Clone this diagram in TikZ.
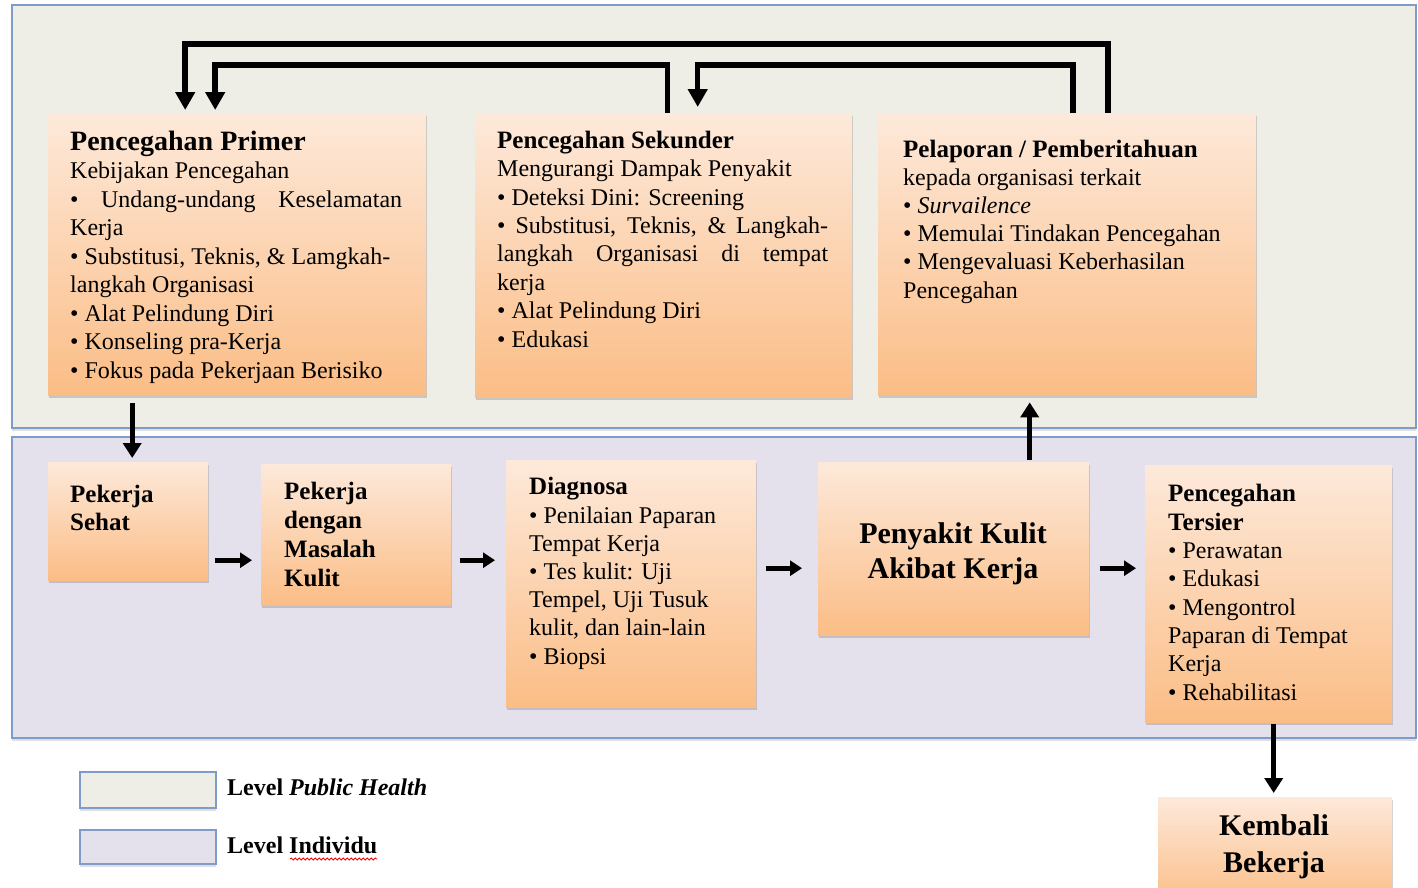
\documentclass[tikz,border=0pt]{standalone}
\usepackage{fontspec}
\setmainfont{Liberation Serif}
\usetikzlibrary{arrows.meta,shadows,decorations.pathmorphing}

\definecolor{phfill}{HTML}{EEEDE6}
\definecolor{indfill}{HTML}{E4E0EC}
\definecolor{panelline}{HTML}{7E9CC9}
\definecolor{boxtop}{HTML}{FDE9DA}
\definecolor{boxbot}{HTML}{FBBD86}

\tikzset{
  panel/.style={draw=panelline, line width=2pt, drop shadow={shadow xshift=0pt, shadow yshift=-3pt, opacity=.25}},
  obox/.style={rectangle, inner sep=0pt, anchor=north west, top color=boxtop, bottom color=boxbot,
    drop shadow={shadow xshift=1pt, shadow yshift=-3pt, opacity=.35}},
  btxt/.style={anchor=base west, align=left, inner sep=0pt, font=\fontsize{24}{28.5}\selectfont},
  ctxt/.style={anchor=base, align=center, inner sep=0pt, font=\fontsize{30}{35}\bfseries},
  bigarr/.style={line width=5.5pt, -{Triangle[width=19pt,length=18pt]}},
  midarr/.style={line width=5pt, -{Triangle[width=18pt,length=15pt]}},
  smallarr/.style={line width=5pt, -{Triangle[width=15pt,length=12pt]}},
}

\begin{document}
\begin{tikzpicture}[x=1pt, y=-1pt]

  \clip (0,0) rectangle (1418,887);
  \fill[white] (0,0) rectangle (1418,887);

  % levels
  \path[panel, fill=phfill] (12,5) rectangle (1416,428);
  \path[panel, fill=indfill] (12,437) rectangle (1416,738);

  % public health level
  \node[obox, minimum width=378, minimum height=282] (primer) at (48,113) {};
  \node[obox, minimum width=377, minimum height=284] (sekunder) at (475,113) {};
  \node[obox, minimum width=378, minimum height=282] (lapor) at (878,113) {};

  % text nodes sit on the baseline of their last line
  \node[btxt] (primertxt) at (70,378) {{\fontsize{28}{30}\bfseries Pencegahan Primer}\\
    Kebijakan Pencegahan\\
    \makebox[332pt][s]{•\ \ Undang-undang\ \ Keselamatan}\\
    Kerja\\
    • Substitusi, Teknis, \& Lamgkah-\\
    langkah Organisasi\\
    • Alat Pelindung Diri\\
    • Konseling pra-Kerja\\
    • Fokus pada Pekerjaan Berisiko};

  \node[btxt, font=\fontsize{24}{28.4}\selectfont] (sekundertxt) at (497,347) {{\fontsize{25}{28.4}\bfseries Pencegahan Sekunder}\\
    Mengurangi Dampak Penyakit\\
    • Deteksi Dini: Screening\\
    \makebox[331pt][s]{• Substitusi, Teknis, \& Langkah-}\\
    \makebox[331pt][s]{langkah Organisasi di tempat}\\
    kerja\\
    • Alat Pelindung Diri\\
    • Edukasi};

  \node[btxt, font=\fontsize{24}{28.2}\selectfont] (laportxt) at (903,298) {{\fontsize{25}{28.2}\bfseries Pelaporan / Pemberitahuan}\\
    kepada organisasi terkait\\
    • \textit{Survailence}\\
    • Memulai Tindakan Pencegahan\\
    • Mengevaluasi Keberhasilan\\
    Pencegahan};

  % individual level
  \node[obox, minimum width=160, minimum height=118] (sehat) at (48,462) {};
  \node[obox, minimum width=190, minimum height=141] (masalah) at (261,464) {};
  \node[obox, minimum width=250, minimum height=247] (diagnosa) at (506,460) {};
  \node[obox, minimum width=271, minimum height=173] (penyakit) at (818,462) {};
  \node[obox, minimum width=247, minimum height=257] (tersier) at (1145,465) {};
  \node[obox, minimum width=234, minimum height=110] (kembali) at (1158,797) {};

  \node[btxt, font=\fontsize{25}{28.5}\bfseries] (sehattxt) at (70,530.5) {Pekerja\\Sehat};
  \node[btxt, font=\fontsize{25}{28.7}\bfseries] (masalahtxt) at (284,586) {Pekerja\\dengan\\Masalah\\Kulit};
  \node[btxt, font=\fontsize{24}{28.2}\selectfont] (diagnosatxt) at (529,664) {{\fontsize{25}{28.2}\bfseries Diagnosa}\\
    • Penilaian Paparan\\
    Tempat Kerja\\
    • Tes kulit: Uji\\
    Tempel, Uji Tusuk\\
    kulit, dan lain-lain\\
    • Biopsi};
  \node[ctxt] (penyakittxt) at (953,578) {Penyakit Kulit\\Akibat Kerja};
  \node[btxt, font=\fontsize{24}{28.3}\selectfont] (tersiertxt) at (1168,700) {{\fontsize{25}{28.3}\bfseries Pencegahan}\\
    {\fontsize{25}{28.3}\bfseries Tersier}\\
    • Perawatan\\
    • Edukasi\\
    • Mengontrol\\
    Paparan di Tempat\\
    Kerja\\
    • Rehabilitasi};
  \node[ctxt, font=\fontsize{30}{37}\bfseries] (kembalitxt) at (1274,872) {Kembali\\Bekerja};

  % feedback loops
  \draw[bigarr, shorten >=3pt] ([xshift=41pt]lapor.north) -- ++(0,-69) -| ([xshift=-52pt]primer.north);
  \draw[bigarr, shorten >=6pt] ([xshift=6pt]lapor.north) -- ++(0,-48) -| ([xshift=34pt]sekunder.north);
  \draw[bigarr, shorten >=3pt] ([xshift=4pt]sekunder.north) -- ++(0,-48) -| ([xshift=-22pt]primer.north);

  \draw[midarr, shorten <=8pt, shorten >=4pt] ([xshift=4pt]sehat.north |- primer.south) -- ([xshift=4pt]sehat.north);
  \draw[midarr, shorten <=2pt, shorten >=7pt] ([xshift=76pt]penyakit.north) -- ([xshift=76pt]penyakit.north |- lapor.south);
  \draw[midarr, shorten <=2pt, shorten >=4pt] ([xshift=5pt]tersier.south) -- ([xshift=5pt]tersier.south |- kembali.north);

  % main flow
  \draw[smallarr, shorten <=7pt, shorten >=9pt] ([yshift=-39pt]sehat.east) -- ([yshift=-39pt]sehat.east -| masalah.west);
  \draw[smallarr, shorten <=9pt, shorten >=11pt] ([yshift=-25.5pt]masalah.east) -- ([yshift=-25.5pt]masalah.east -| diagnosa.west);
  \draw[smallarr, shorten <=10pt, shorten >=16pt] ([yshift=15.5pt]diagnosa.east) -- ([yshift=15.5pt]diagnosa.east -| penyakit.west);
  \draw[smallarr, shorten <=11pt, shorten >=9pt] ([yshift=-19.5pt]penyakit.east) -- ([yshift=-19.5pt]penyakit.east -| tersier.west);

  % legend
  \path[panel, fill=phfill] (80,772) rectangle (216,808);
  \path[panel, fill=indfill] (80,830) rectangle (216,864);
  \node[btxt, font=\fontsize{24}{28}\bfseries] (legph) at (227,795) {Level \textit{Public Health}};
  \node[btxt, font=\fontsize{24}{28}\bfseries] (legind) at (227,853) {Level Individu};
  \draw[red, line width=0.8pt, decorate, decoration={snake, amplitude=1pt, segment length=4pt}]
    ([xshift=63pt, yshift=-6pt]legind.base west) -- ([yshift=-6pt]legind.base east);

\end{tikzpicture}
\end{document}
